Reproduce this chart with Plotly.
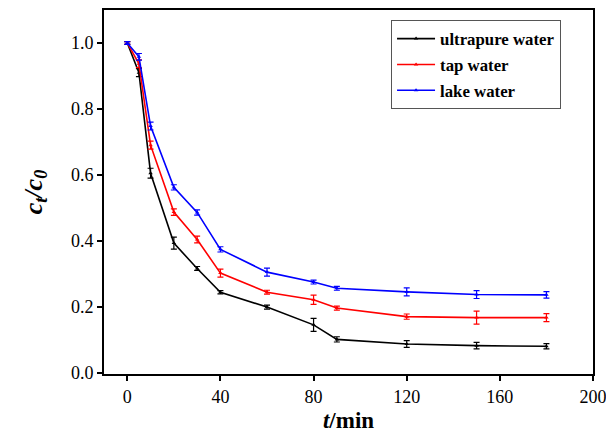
import plotly.graph_objects as go

t_min = [0, 5, 10, 20, 30, 40, 60, 80, 90, 120, 150, 180]

ultrapure = [1.0, 0.91, 0.605, 0.393, 0.316, 0.244, 0.199, 0.145, 0.101, 0.087, 0.082, 0.080]
ultrapure_err = [0.004, 0.012, 0.015, 0.018, 0.006, 0.005, 0.006, 0.020, 0.008, 0.010, 0.010, 0.008]

tap = [1.0, 0.937, 0.69, 0.487, 0.404, 0.302, 0.244, 0.221, 0.196, 0.170, 0.167, 0.167]
tap_err = [0.004, 0.012, 0.012, 0.010, 0.010, 0.012, 0.006, 0.014, 0.006, 0.008, 0.020, 0.012]

lake = [1.0, 0.958, 0.748, 0.562, 0.486, 0.374, 0.305, 0.275, 0.256, 0.245, 0.237, 0.236]
lake_err = [0.004, 0.010, 0.012, 0.008, 0.008, 0.008, 0.012, 0.006, 0.006, 0.012, 0.012, 0.010]

series = [
    ("ultrapure water", ultrapure, ultrapure_err, "#000000"),
    ("tap water", tap, tap_err, "#ff0000"),
    ("lake water", lake, lake_err, "#0000ff"),
]

fig = go.Figure()
for name, vals, errs, color in series:
    fig.add_trace(go.Scatter(
        x=t_min, y=vals, name="<b>" + name + "</b>", mode="lines+markers",
        legendgroup=name,
        line=dict(color=color, width=1.6),
        marker=dict(symbol="triangle-up", size=4, color=color),
        error_y=dict(type="data", array=errs, visible=True, color=color, thickness=1.2, width=3),
    ))

font_family = "Liberation Serif"

fig.update_layout(
    width=606, height=436,
    margin=dict(l=96, r=21, t=2, b=70, autoexpand=False),
    plot_bgcolor="white", paper_bgcolor="white",
    font=dict(family=font_family, color="black", size=18),
    showlegend=True,
    legend=dict(
        x=0.587, y=0.972, xanchor="left", yanchor="top",
        bordercolor="#555555", borderwidth=1, bgcolor="white",
        font=dict(family=font_family, size=16.8, color="black"),
        itemwidth=38, tracegroupgap=1,
    ),
    xaxis=dict(
        range=[-10, 200], tickvals=[0, 40, 80, 120, 160, 200],
        showline=True, linecolor="black", linewidth=2, mirror=True,
        ticks="outside", ticklen=5, tickwidth=2, tickcolor="black",
        showgrid=False, zeroline=False, automargin=False,
        tickfont=dict(family=font_family, size=18, color="black"),
        title=dict(text="<b><i>t</i>/min</b>", font=dict(family=font_family, size=23), standoff=6),
    ),
    yaxis=dict(
        range=[-0.004, 1.1], tickvals=[0.0, 0.2, 0.4, 0.6, 0.8, 1.0], tickformat=".1f",
        showline=True, linecolor="black", linewidth=2, mirror=True,
        ticks="outside", ticklen=5, tickwidth=2, tickcolor="black",
        showgrid=False, zeroline=False, automargin=False,
        tickfont=dict(family=font_family, size=18, color="black"),
        title=dict(text="<b><i>c<sub>t</sub>/c<sub>0</sub></i></b>", font=dict(family=font_family, size=26), standoff=21),
    ),
)

fig.write_html("out.html")
